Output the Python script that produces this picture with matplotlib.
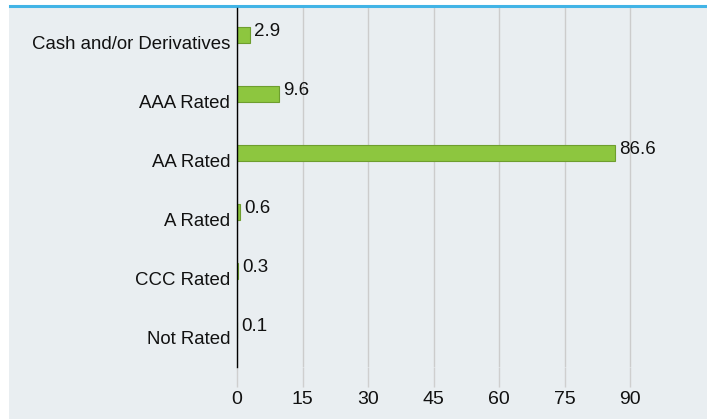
import matplotlib
matplotlib.use("Agg")
import matplotlib.pyplot as plt
from matplotlib.patches import Rectangle
from matplotlib.lines import Line2D

plt.rcParams['font.family'] = ['Liberation Sans', 'DejaVu Sans']

categories = ["Cash and/or Derivatives", "AAA Rated", "AA Rated", "A Rated", "CCC Rated", "Not Rated"]
values = [2.9, 9.6, 86.6, 0.6, 0.3, 0.1]
value_labels = ["2.9", "9.6", "86.6", "0.6", "0.3", "0.1"]
xticks = [0, 15, 30, 45, 60, 75, 90]

W, H = 707, 419
fig = plt.figure(figsize=(W / 100, H / 100), dpi=100)
fig.patch.set_facecolor("white")

# grey panel and blue top rule
fig.patches.append(Rectangle((9 / W, 0), 1 - 9 / W, 1 - 7 / H, transform=fig.transFigure,
                             facecolor="#e9eef1", edgecolor="none", zorder=-10))
fig.lines.append(Line2D([10 / W, 706 / W], [1 - 6 / H, 1 - 6 / H], transform=fig.transFigure,
                        color="#42b4e6", lw=2.2, zorder=-9))

ax = fig.add_axes([237 / W, 1 - 367 / H, (W - 237) / W, (367 - 8) / H])
ax.set_zorder(5)
ax.set_facecolor("none")

ypos = list(range(len(categories)))
bar_h = 0.27
ax.barh([y - bar_h / 2 for y in ypos], values, height=bar_h, color="#8dc63f",
        edgecolor="#6e9e2e", linewidth=0.8, zorder=3)

for y, v, lab in zip(ypos, values, value_labels):
    ax.annotate(lab, (v, y - bar_h / 2), xytext=(3, 2.5), textcoords="offset points",
                ha="left", va="center", fontsize=13.5, color="#111111", zorder=4)

ax.set_ylim(5.5, -0.59)
ax.set_xlim(0, 107.6)
ax.set_yticks(ypos)
ax.set_yticklabels(categories, fontsize=13.4, color="#111111")
ax.set_xticks(xticks)
ax.set_xticklabels([str(t) for t in xticks], fontsize=14, color="#111111")

ax.grid(axis="x", color="#cccccc", lw=1.0, zorder=0)
ax.tick_params(axis="y", length=0, pad=5)
ax.tick_params(axis="x", length=14.5, width=1.0, color="#cfcfcf", pad=3)

for s in ["top", "right", "bottom"]:
    ax.spines[s].set_visible(False)
ax.spines["left"].set_color("black")
ax.spines["left"].set_linewidth(1.0)
ax.spines["left"].set_zorder(5)

fig.savefig("out.png", dpi=100)
